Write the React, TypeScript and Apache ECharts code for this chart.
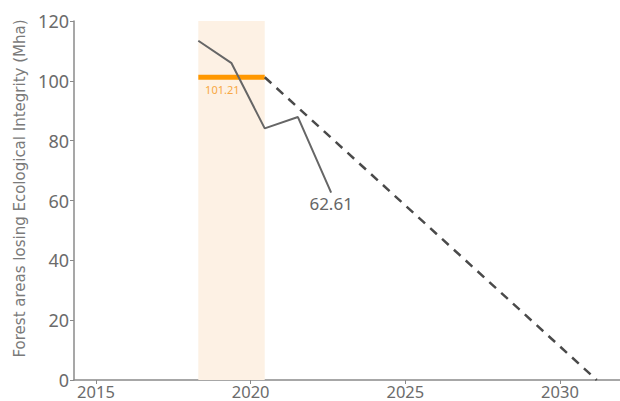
import React, { useEffect, useRef } from "react";
import * as echarts from "echarts";

const years = [2018, 2019, 2020, 2021, 2022];
const losing = [113.4, 105.9, 84.1, 87.9, 62.61];
const baselineYears = [2018, 2020];
const baselineValue = 101.21;
const targetYears = [2020, 2030];
const targetValues = [101.21, 0];
const shadedYears = [2018, 2020];
const tickYears = [2015, 2020, 2025, 2030];
const yTicks = [0, 20, 40, 60, 80, 100, 120];

const FONT = "'Noto Sans', sans-serif";

export default function App() {
  const ref = useRef<HTMLDivElement>(null);
  useEffect(() => {
    document.body.style.margin = "0";
    if (!ref.current) return;
    const chart = echarts.init(ref.current, null, { renderer: "svg" });
    const lastIdx = years.length - 1;
    chart.setOption({
      animation: false,
      grid: { left: 74, top: 21, right: 0, bottom: 21, containLabel: false },
      xAxis: [
        {
          type: "value",
          min: 2014.289,
          max: 2031.94,
          axisLine: { show: true, lineStyle: { color: "#8a8a8a", width: 1.5 } },
          axisTick: { show: true, length: 4, customValues: tickYears, lineStyle: { color: "#8a8a8a" } },
          axisLabel: {
            customValues: tickYears,
            color: "#6b6b6b",
            fontSize: 16.5,
            lineHeight: 16,
            fontFamily: FONT,
            margin: 3,
            formatter: (v: number) => String(Math.round(v)),
          },
          splitLine: { show: false },
        },
        {
          type: "value",
          show: false,
          min: 2014.256,
          max: 2030.7,
          splitLine: { show: false },
        },
      ],
      yAxis: {
        type: "value",
        min: yTicks[0],
        max: yTicks[yTicks.length - 1],
        interval: 20,
        name: "Forest areas losing Ecological Integrity (Mha)",
        nameLocation: "middle",
        nameGap: 45,
        nameTextStyle: { color: "#7a7a7a", fontSize: 15, fontFamily: "'DejaVu Sans', sans-serif", padding: [0, 0, 0, 24] },
        axisLine: { show: true, lineStyle: { color: "#8a8a8a", width: 1.5 } },
        axisTick: { show: true, length: 4, lineStyle: { color: "#8a8a8a" } },
        axisLabel: { color: "#6b6b6b", fontSize: 18, fontFamily: FONT, margin: 5 },
        splitLine: { show: false },
      },
      series: [
        {
          type: "line",
          xAxisIndex: 1,
          data: [],
          silent: true,
          markArea: {
            silent: true,
            itemStyle: { color: "#fdf1e4" },
            data: [[{ xAxis: shadedYears[0], yAxis: yTicks[0] }, { xAxis: shadedYears[1], yAxis: yTicks[yTicks.length - 1] }]],
          },
          z: 0,
        },
        {
          type: "line",
          xAxisIndex: 1,
          symbol: "circle",
          symbolSize: 0.1,
          lineStyle: { color: "#ff9800", width: 5 },
          itemStyle: { color: "#ff9800" },
          data: baselineYears.map((y, i) =>
            i === 0
              ? {
                  value: [y, baselineValue],
                  label: {
                    show: true,
                    position: "bottom",
                    offset: [24, 2],
                    formatter: String(baselineValue),
                    color: "#f8a843",
                    fontSize: 11,
                    fontFamily: FONT,
                  },
                }
              : { value: [y, baselineValue] }
          ),
          z: 2,
        },
        {
          type: "line",
          xAxisIndex: 1,
          symbol: "none",
          lineStyle: { color: "#4a4a4a", width: 2.5, type: [9, 7] },
          data: targetYears.map((y, i) => [y, targetValues[i]]),
          z: 3,
        },
        {
          type: "line",
          xAxisIndex: 1,
          symbol: "circle",
          symbolSize: 0.1,
          lineStyle: { color: "#666666", width: 2 },
          itemStyle: { color: "#666666" },
          data: years.map((y, i) =>
            i === lastIdx
              ? {
                  value: [y, losing[i]],
                  label: {
                    show: true,
                    position: "bottom",
                    distance: 2,
                    formatter: String(losing[i]),
                    color: "#666666",
                    fontSize: 17,
                    fontFamily: FONT,
                  },
                }
              : [y, losing[i]]
          ),
          z: 4,
        },
      ],
    });
    return () => chart.dispose();
  }, []);
  return <div ref={ref} style={{ width: 620, height: 401 }} />;
}
